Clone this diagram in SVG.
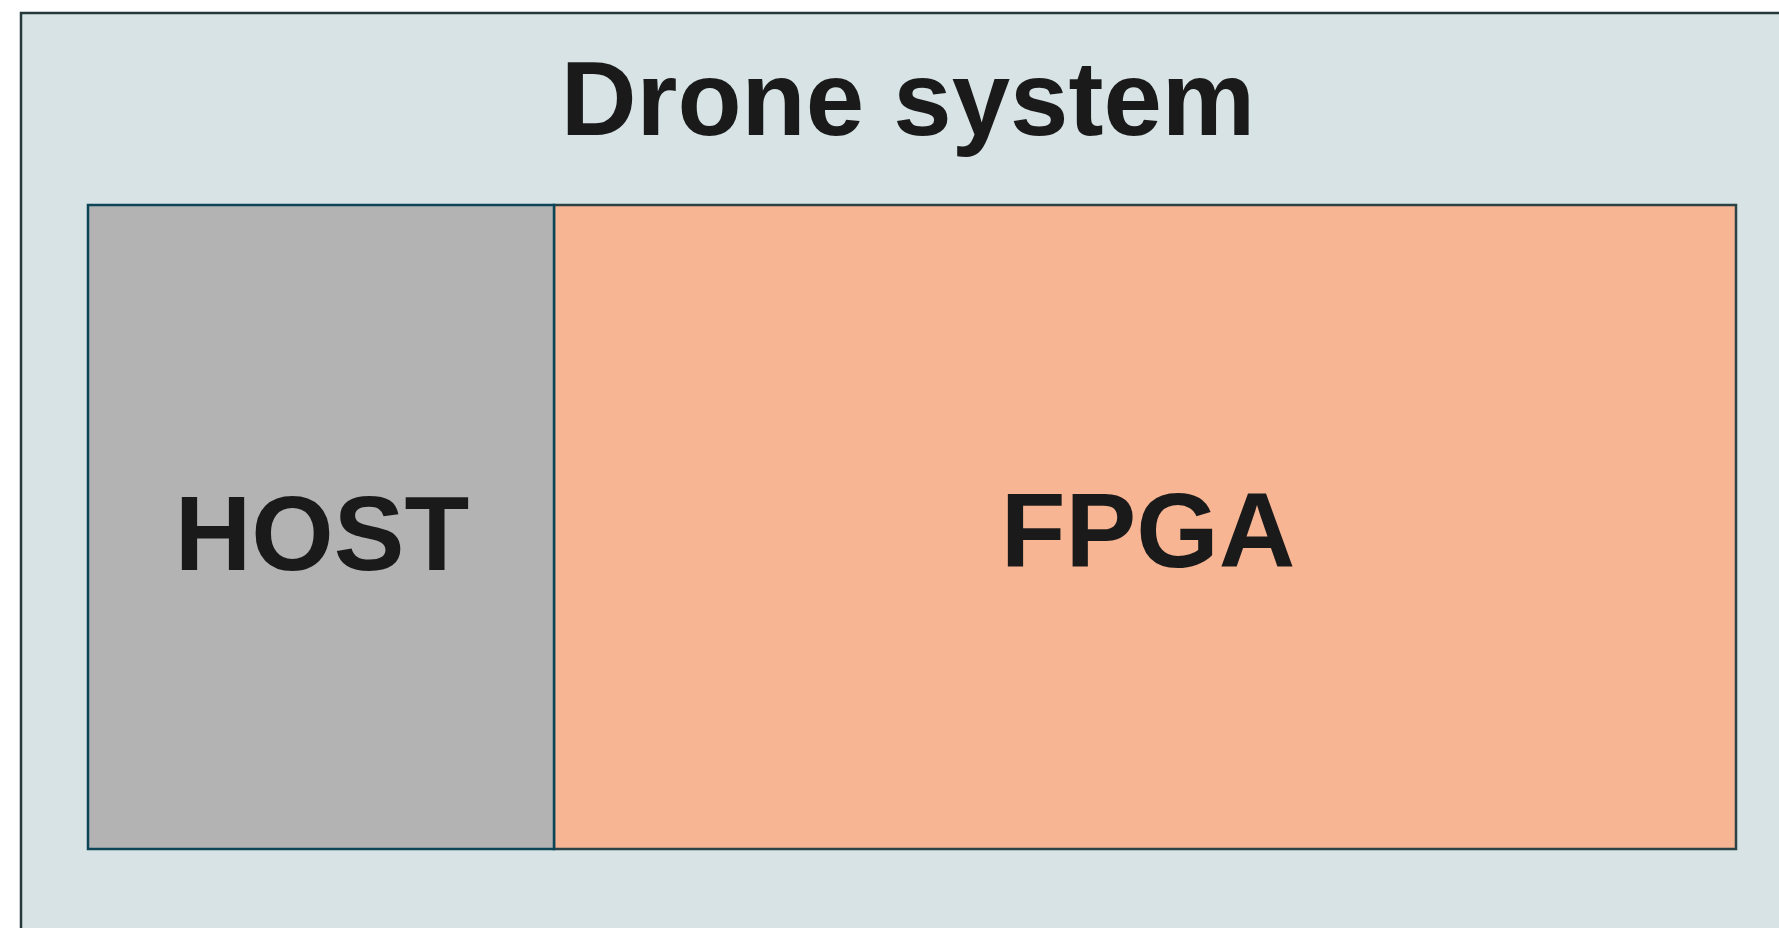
<svg xmlns="http://www.w3.org/2000/svg" width="1779" height="928" viewBox="0 0 1779 928">
  <style>
    .label { font-family: "Liberation Sans", Arial, sans-serif; font-weight: bold; fill: #1a1a1a; text-anchor: middle; }
  </style>
  <rect x="0" y="0" width="1779" height="928" fill="#ffffff"/>
  <g id="drone-system">
    <rect x="21" y="13" width="1800" height="1000" fill="#d7e3e5" stroke="#25393d" stroke-width="2.5"/>
    <text class="label" x="908" y="135" font-size="105">Drone system</text>
  </g>
  <g id="fpga">
    <rect x="554" y="205" width="1182" height="644" fill="#f8b594" stroke="#2b4347" stroke-width="2.5"/>
    <text class="label" x="1148" y="567" font-size="106">FPGA</text>
  </g>
  <g id="host">
    <rect x="88" y="205" width="466" height="644" fill="#b3b3b3" stroke="#0b4557" stroke-width="2.5"/>
    <text class="label" x="322" y="570" font-size="106">HOST</text>
  </g>
  <g id="connectors"/>
</svg>
